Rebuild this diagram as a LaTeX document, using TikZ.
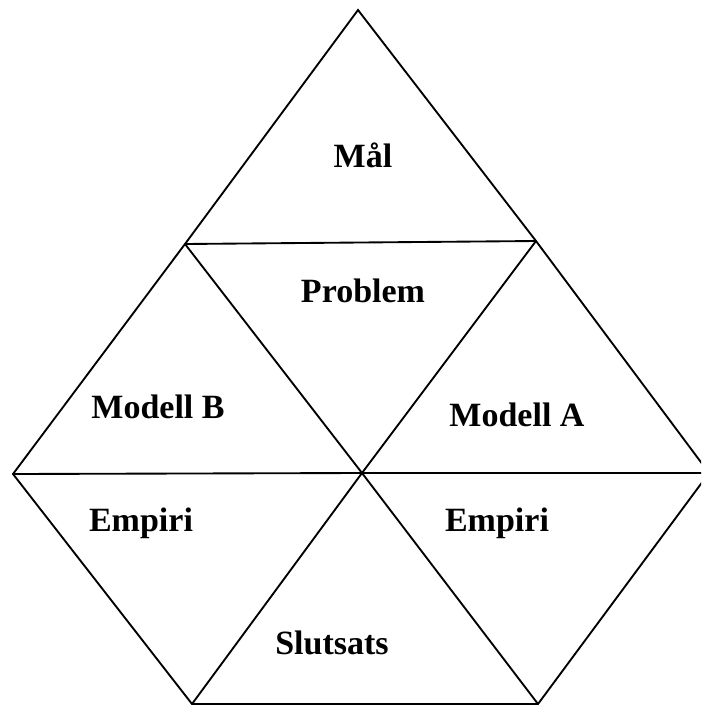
\documentclass[tikz,border=0pt]{standalone}
\usepackage{fontspec}
\setmainfont{Liberation Serif}
\begin{document}
\begin{tikzpicture}[x=0.75pt,y=-0.75pt,
  edge/.style={line width=1.4pt,line join=miter},
  lbl/.style={anchor=base,inner sep=0pt,font=\bfseries\fontsize{25.5}{30}\selectfont}]
\useasboundingbox (0,0) rectangle (701,711);
\clip (0,0) rectangle (701,711);
% vertices of the triangle grid
\coordinate (apex) at (358,10);
\coordinate (ul) at (185,244);
\coordinate (ur) at (536,241);
\coordinate (l) at (13,474);
\coordinate (c) at (362,473);
\coordinate (r) at (709,473);
\coordinate (bl) at (192,704);
\coordinate (br) at (538,704);
% outer hexagon-like outline
\draw[edge] (apex) -- (ul) -- (l) -- (bl) -- (br) -- (r) -- (ur) -- cycle;
% inner edges
\draw[edge] (ul) -- (ur);
\draw[edge] (ul) -- (c) -- (ur);
\draw[edge] (l) -- (c) -- (r);
\draw[edge] (bl) -- (c) -- (br);
% labels
\node[lbl] (mal) at (363,167) {Mål};
\node[lbl] (problem) at (363,302) {Problem};
\node[lbl] (modb) at (158,418) {Modell B};
\node[lbl] (moda) at (517,426) {Modell A};
\node[lbl] (empl) at (141,531) {Empiri};
\node[lbl] (empr) at (497,531) {Empiri};
\node[lbl] (slut) at (332,654) {Slutsats};
\end{tikzpicture}
\end{document}
